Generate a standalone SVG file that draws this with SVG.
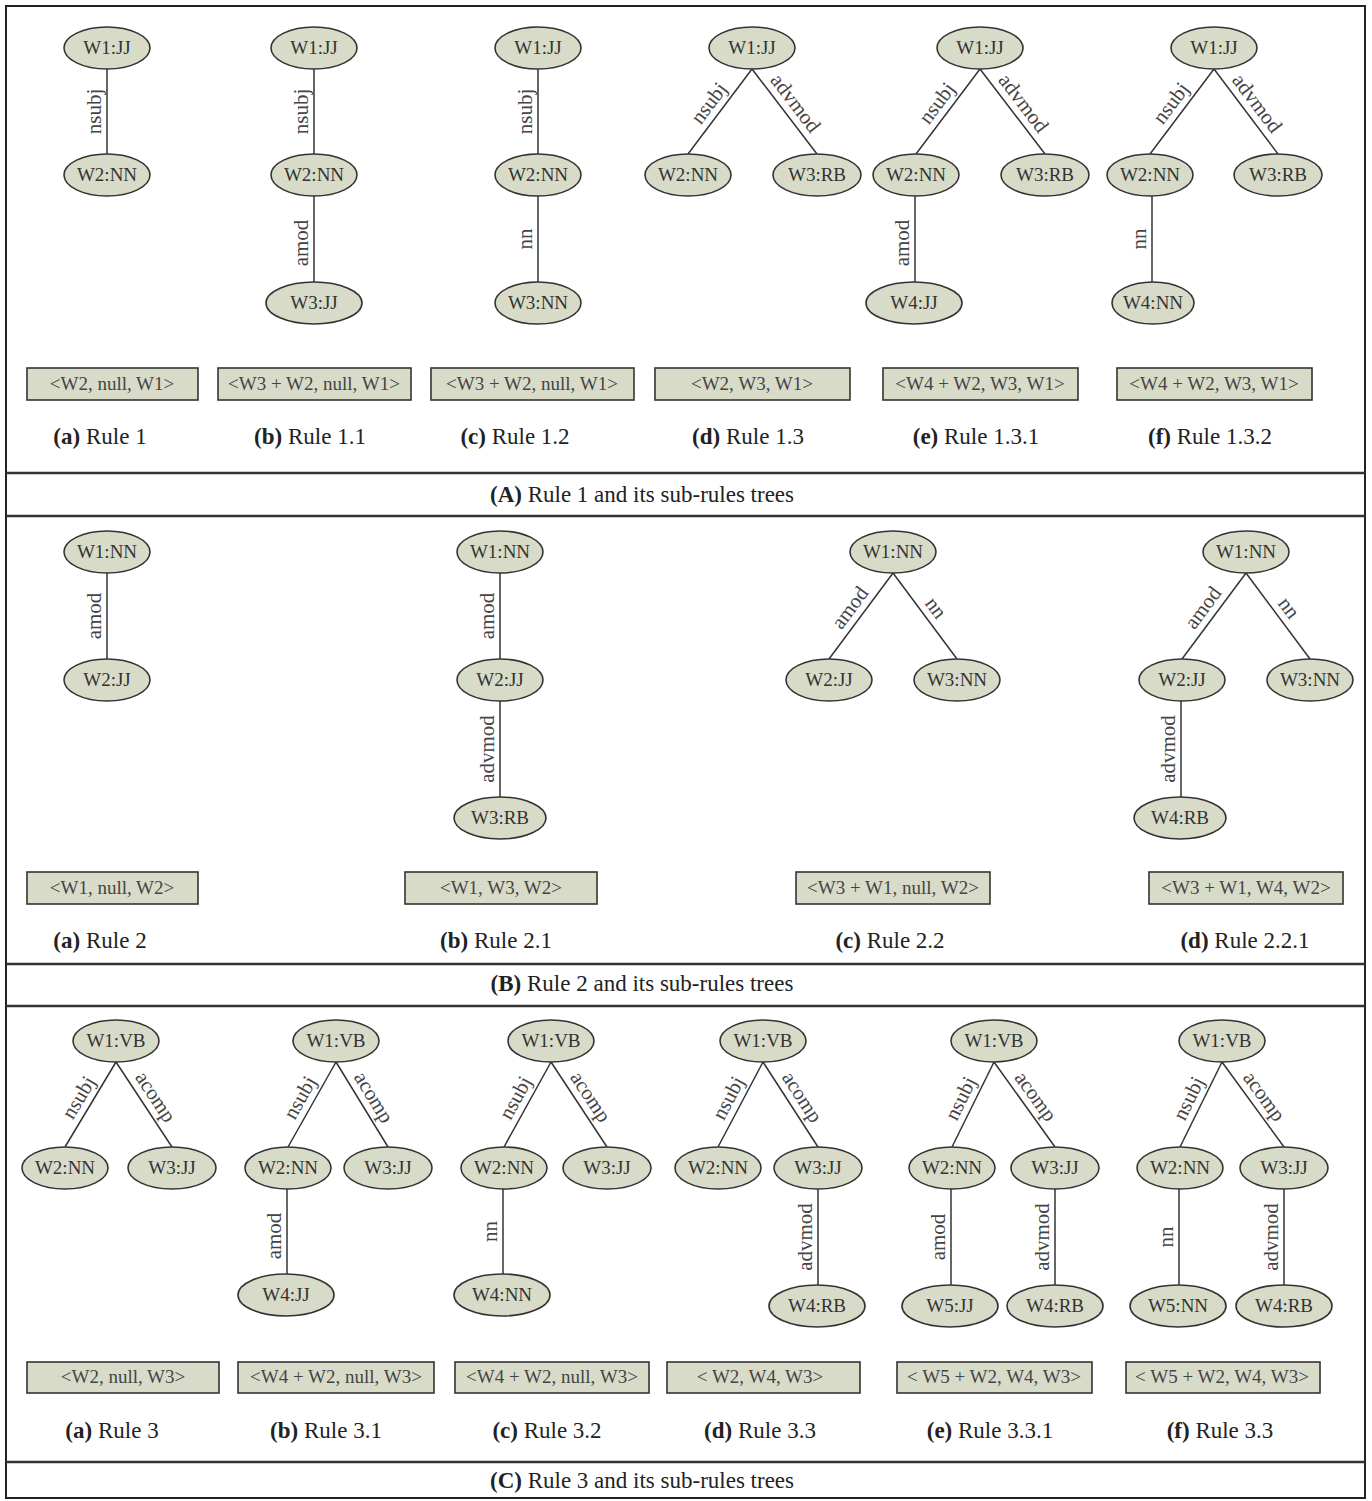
<svg xmlns="http://www.w3.org/2000/svg" width="1372" height="1501" viewBox="0 0 1372 1501">
<style>
.bg{fill:#fff}
.frame{fill:none;stroke:#222;stroke-width:2}
.div{stroke:#333;stroke-width:2.5}
.nd ellipse{fill:#d9dbc9;stroke:#333;stroke-width:1.6}
.nd text{font-family:"Liberation Serif",serif;font-size:19px;fill:#333;text-anchor:middle}
.edges line{stroke:#333;stroke-width:1.5}
.el{font-family:"Liberation Serif",serif;font-size:21px;fill:#444;text-anchor:middle}
.bx rect{fill:#d9dbc9;stroke:#333;stroke-width:1.6}
.bx text{font-family:"Liberation Serif",serif;font-size:19px;fill:#444;text-anchor:middle}
.cap{font-family:"Liberation Serif",serif;font-size:23px;fill:#222;text-anchor:middle}
.b{font-weight:bold}
</style>
<rect class="bg" x="0" y="0" width="1372" height="1501"/>
<rect class="frame" x="6" y="6" width="1359" height="1492"/>
<g id="dividers">
<line class="div" x1="6" y1="473" x2="1365" y2="473"/>
<line class="div" x1="6" y1="516" x2="1365" y2="516"/>
<line class="div" x1="6" y1="964" x2="1365" y2="964"/>
<line class="div" x1="6" y1="1006" x2="1365" y2="1006"/>
<line class="div" x1="6" y1="1462" x2="1365" y2="1462"/>
</g>

<g id="connectors" class="edges">
<!-- Panel A -->
<line x1="107" y1="69" x2="107" y2="154"/>
<line x1="314" y1="69" x2="314" y2="154"/>
<line x1="314" y1="196" x2="314" y2="282"/>
<line x1="538" y1="69" x2="538" y2="154"/>
<line x1="538" y1="196" x2="538" y2="282"/>
<line x1="752" y1="69" x2="688" y2="154"/>
<line x1="752" y1="69" x2="817" y2="154"/>
<line x1="980" y1="69" x2="916" y2="154"/>
<line x1="980" y1="69" x2="1045" y2="154"/>
<line x1="915" y1="196" x2="915" y2="282"/>
<line x1="1214" y1="69" x2="1150" y2="154"/>
<line x1="1214" y1="69" x2="1278" y2="154"/>
<line x1="1152" y1="196" x2="1152" y2="282"/>
<!-- Panel B -->
<line x1="107" y1="573" x2="107" y2="659"/>
<line x1="500" y1="573" x2="500" y2="659"/>
<line x1="500" y1="701" x2="500" y2="797"/>
<line x1="893" y1="573" x2="829" y2="659"/>
<line x1="893" y1="573" x2="957" y2="659"/>
<line x1="1246" y1="573" x2="1182" y2="659"/>
<line x1="1246" y1="573" x2="1310" y2="659"/>
<line x1="1181" y1="701" x2="1181" y2="797"/>
<!-- Panel C -->
<line x1="116" y1="1062" x2="65" y2="1147"/>
<line x1="116" y1="1062" x2="172" y2="1147"/>
<line x1="336" y1="1062" x2="288" y2="1147"/>
<line x1="336" y1="1062" x2="388" y2="1147"/>
<line x1="287" y1="1189" x2="287" y2="1274"/>
<line x1="551" y1="1062" x2="504" y2="1147"/>
<line x1="551" y1="1062" x2="607" y2="1147"/>
<line x1="503" y1="1189" x2="503" y2="1274"/>
<line x1="763" y1="1062" x2="718" y2="1147"/>
<line x1="763" y1="1062" x2="818" y2="1147"/>
<line x1="818" y1="1189" x2="818" y2="1285"/>
<line x1="994" y1="1062" x2="952" y2="1147"/>
<line x1="994" y1="1062" x2="1055" y2="1147"/>
<line x1="951" y1="1189" x2="951" y2="1285"/>
<line x1="1055" y1="1189" x2="1055" y2="1285"/>
<line x1="1222" y1="1062" x2="1180" y2="1147"/>
<line x1="1222" y1="1062" x2="1284" y2="1147"/>
<line x1="1179" y1="1189" x2="1179" y2="1285"/>
<line x1="1284" y1="1189" x2="1284" y2="1285"/>

<!-- edge labels -->
<g>
<text class="el" transform="translate(107,111.5) rotate(-90)" y="-6">nsubj</text>
<text class="el" transform="translate(314,111.5) rotate(-90)" y="-6">nsubj</text>
<text class="el" transform="translate(314,243) rotate(-90)" y="-6">amod</text>
<text class="el" transform="translate(538,111.5) rotate(-90)" y="-6">nsubj</text>
<text class="el" transform="translate(538,239) rotate(-90)" y="-6">nn</text>
<text class="el" transform="translate(720,111.5) rotate(-53)" y="-7">nsubj</text>
<text class="el" transform="translate(784.5,111.5) rotate(52.6)" y="-7">advmod</text>
<text class="el" transform="translate(948,111.5) rotate(-53)" y="-7">nsubj</text>
<text class="el" transform="translate(1012.5,111.5) rotate(52.6)" y="-7">advmod</text>
<text class="el" transform="translate(915,243) rotate(-90)" y="-6">amod</text>
<text class="el" transform="translate(1182,111.5) rotate(-53)" y="-7">nsubj</text>
<text class="el" transform="translate(1246,111.5) rotate(53)" y="-7">advmod</text>
<text class="el" transform="translate(1152,239) rotate(-90)" y="-6">nn</text>

<text class="el" transform="translate(107,616) rotate(-90)" y="-6">amod</text>
<text class="el" transform="translate(500,616) rotate(-90)" y="-6">amod</text>
<text class="el" transform="translate(500,749) rotate(-90)" y="-6">advmod</text>
<text class="el" transform="translate(861,616) rotate(-53.3)" y="-7">amod</text>
<text class="el" transform="translate(925,616) rotate(53.3)" y="-7">nn</text>
<text class="el" transform="translate(1214,616) rotate(-53.3)" y="-7">amod</text>
<text class="el" transform="translate(1278,616) rotate(53.3)" y="-7">nn</text>
<text class="el" transform="translate(1181,749) rotate(-90)" y="-6">advmod</text>

<text class="el" transform="translate(90.5,1104.5) rotate(-59)" y="-7">nsubj</text>
<text class="el" transform="translate(144,1104.5) rotate(56.6)" y="-7">acomp</text>
<text class="el" transform="translate(312,1104.5) rotate(-60.5)" y="-7">nsubj</text>
<text class="el" transform="translate(362,1104.5) rotate(58.5)" y="-7">acomp</text>
<text class="el" transform="translate(287,1236) rotate(-90)" y="-6">amod</text>
<text class="el" transform="translate(527.5,1104.5) rotate(-61.1)" y="-7">nsubj</text>
<text class="el" transform="translate(579,1104.5) rotate(56.6)" y="-7">acomp</text>
<text class="el" transform="translate(503,1231.5) rotate(-90)" y="-6">nn</text>
<text class="el" transform="translate(740.5,1104.5) rotate(-62.1)" y="-7">nsubj</text>
<text class="el" transform="translate(790.5,1104.5) rotate(57.1)" y="-7">acomp</text>
<text class="el" transform="translate(818,1237) rotate(-90)" y="-6">advmod</text>
<text class="el" transform="translate(973,1104.5) rotate(-63.7)" y="-7">nsubj</text>
<text class="el" transform="translate(1024.5,1104.5) rotate(54.3)" y="-7">acomp</text>
<text class="el" transform="translate(951,1237) rotate(-90)" y="-6">amod</text>
<text class="el" transform="translate(1055,1237) rotate(-90)" y="-6">advmod</text>
<text class="el" transform="translate(1201,1104.5) rotate(-63.7)" y="-7">nsubj</text>
<text class="el" transform="translate(1253,1104.5) rotate(53.9)" y="-7">acomp</text>
<text class="el" transform="translate(1179,1237) rotate(-90)" y="-6">nn</text>
<text class="el" transform="translate(1284,1237) rotate(-90)" y="-6">advmod</text>
</g>
</g>

<!-- Panel A nodes -->
<g id="A-a-W1" class="nd"><ellipse cx="107" cy="48" rx="43" ry="21"/><text x="107" y="54">W1:JJ</text></g>
<g id="A-a-W2" class="nd"><ellipse cx="107" cy="175" rx="43" ry="21"/><text x="107" y="181">W2:NN</text></g>
<g id="A-b-W1" class="nd"><ellipse cx="314" cy="48" rx="43" ry="21"/><text x="314" y="54">W1:JJ</text></g>
<g id="A-b-W2" class="nd"><ellipse cx="314" cy="175" rx="43" ry="21"/><text x="314" y="181">W2:NN</text></g>
<g id="A-b-W3" class="nd"><ellipse cx="314" cy="303" rx="48" ry="21"/><text x="314" y="309">W3:JJ</text></g>
<g id="A-c-W1" class="nd"><ellipse cx="538" cy="48" rx="43" ry="21"/><text x="538" y="54">W1:JJ</text></g>
<g id="A-c-W2" class="nd"><ellipse cx="538" cy="175" rx="43" ry="21"/><text x="538" y="181">W2:NN</text></g>
<g id="A-c-W3" class="nd"><ellipse cx="538" cy="303" rx="43" ry="21"/><text x="538" y="309">W3:NN</text></g>
<g id="A-d-W1" class="nd"><ellipse cx="752" cy="48" rx="43" ry="21"/><text x="752" y="54">W1:JJ</text></g>
<g id="A-d-W2" class="nd"><ellipse cx="688" cy="175" rx="43" ry="21"/><text x="688" y="181">W2:NN</text></g>
<g id="A-d-W3" class="nd"><ellipse cx="817" cy="175" rx="44" ry="21"/><text x="817" y="181">W3:RB</text></g>
<g id="A-e-W1" class="nd"><ellipse cx="980" cy="48" rx="43" ry="21"/><text x="980" y="54">W1:JJ</text></g>
<g id="A-e-W2" class="nd"><ellipse cx="916" cy="175" rx="43" ry="21"/><text x="916" y="181">W2:NN</text></g>
<g id="A-e-W3" class="nd"><ellipse cx="1045" cy="175" rx="44" ry="21"/><text x="1045" y="181">W3:RB</text></g>
<g id="A-e-W4" class="nd"><ellipse cx="914" cy="303" rx="48" ry="21"/><text x="914" y="309">W4:JJ</text></g>
<g id="A-f-W1" class="nd"><ellipse cx="1214" cy="48" rx="43" ry="21"/><text x="1214" y="54">W1:JJ</text></g>
<g id="A-f-W2" class="nd"><ellipse cx="1150" cy="175" rx="43" ry="21"/><text x="1150" y="181">W2:NN</text></g>
<g id="A-f-W3" class="nd"><ellipse cx="1278" cy="175" rx="44" ry="21"/><text x="1278" y="181">W3:RB</text></g>
<g id="A-f-W4" class="nd"><ellipse cx="1153" cy="303" rx="41" ry="21"/><text x="1153" y="309">W4:NN</text></g>

<!-- Panel B nodes -->
<g id="B-a-W1" class="nd"><ellipse cx="107" cy="552" rx="43" ry="21"/><text x="107" y="558">W1:NN</text></g>
<g id="B-a-W2" class="nd"><ellipse cx="107" cy="680" rx="43" ry="21"/><text x="107" y="686">W2:JJ</text></g>
<g id="B-b-W1" class="nd"><ellipse cx="500" cy="552" rx="43" ry="21"/><text x="500" y="558">W1:NN</text></g>
<g id="B-b-W2" class="nd"><ellipse cx="500" cy="680" rx="43" ry="21"/><text x="500" y="686">W2:JJ</text></g>
<g id="B-b-W3" class="nd"><ellipse cx="500" cy="818" rx="46" ry="21"/><text x="500" y="824">W3:RB</text></g>
<g id="B-c-W1" class="nd"><ellipse cx="893" cy="552" rx="43" ry="21"/><text x="893" y="558">W1:NN</text></g>
<g id="B-c-W2" class="nd"><ellipse cx="829" cy="680" rx="43" ry="21"/><text x="829" y="686">W2:JJ</text></g>
<g id="B-c-W3" class="nd"><ellipse cx="957" cy="680" rx="43" ry="21"/><text x="957" y="686">W3:NN</text></g>
<g id="B-d-W1" class="nd"><ellipse cx="1246" cy="552" rx="43" ry="21"/><text x="1246" y="558">W1:NN</text></g>
<g id="B-d-W2" class="nd"><ellipse cx="1182" cy="680" rx="43" ry="21"/><text x="1182" y="686">W2:JJ</text></g>
<g id="B-d-W3" class="nd"><ellipse cx="1310" cy="680" rx="43" ry="21"/><text x="1310" y="686">W3:NN</text></g>
<g id="B-d-W4" class="nd"><ellipse cx="1180" cy="818" rx="46" ry="21"/><text x="1180" y="824">W4:RB</text></g>

<!-- Panel C nodes -->
<g id="C-a-W1" class="nd"><ellipse cx="116" cy="1041" rx="43" ry="21"/><text x="116" y="1047">W1:VB</text></g>
<g id="C-a-W2" class="nd"><ellipse cx="65" cy="1168" rx="43" ry="21"/><text x="65" y="1174">W2:NN</text></g>
<g id="C-a-W3" class="nd"><ellipse cx="172" cy="1168" rx="44" ry="21"/><text x="172" y="1174">W3:JJ</text></g>
<g id="C-b-W1" class="nd"><ellipse cx="336" cy="1041" rx="43" ry="21"/><text x="336" y="1047">W1:VB</text></g>
<g id="C-b-W2" class="nd"><ellipse cx="288" cy="1168" rx="43" ry="21"/><text x="288" y="1174">W2:NN</text></g>
<g id="C-b-W3" class="nd"><ellipse cx="388" cy="1168" rx="44" ry="21"/><text x="388" y="1174">W3:JJ</text></g>
<g id="C-b-W4" class="nd"><ellipse cx="286" cy="1295" rx="48" ry="21"/><text x="286" y="1301">W4:JJ</text></g>
<g id="C-c-W1" class="nd"><ellipse cx="551" cy="1041" rx="43" ry="21"/><text x="551" y="1047">W1:VB</text></g>
<g id="C-c-W2" class="nd"><ellipse cx="504" cy="1168" rx="43" ry="21"/><text x="504" y="1174">W2:NN</text></g>
<g id="C-c-W3" class="nd"><ellipse cx="607" cy="1168" rx="44" ry="21"/><text x="607" y="1174">W3:JJ</text></g>
<g id="C-c-W4" class="nd"><ellipse cx="502" cy="1295" rx="48" ry="21"/><text x="502" y="1301">W4:NN</text></g>
<g id="C-d-W1" class="nd"><ellipse cx="763" cy="1041" rx="43" ry="21"/><text x="763" y="1047">W1:VB</text></g>
<g id="C-d-W2" class="nd"><ellipse cx="718" cy="1168" rx="43" ry="21"/><text x="718" y="1174">W2:NN</text></g>
<g id="C-d-W3" class="nd"><ellipse cx="818" cy="1168" rx="44" ry="21"/><text x="818" y="1174">W3:JJ</text></g>
<g id="C-d-W4" class="nd"><ellipse cx="817" cy="1306" rx="48" ry="21"/><text x="817" y="1312">W4:RB</text></g>
<g id="C-e-W1" class="nd"><ellipse cx="994" cy="1041" rx="43" ry="21"/><text x="994" y="1047">W1:VB</text></g>
<g id="C-e-W2" class="nd"><ellipse cx="952" cy="1168" rx="43" ry="21"/><text x="952" y="1174">W2:NN</text></g>
<g id="C-e-W3" class="nd"><ellipse cx="1055" cy="1168" rx="44" ry="21"/><text x="1055" y="1174">W3:JJ</text></g>
<g id="C-e-W5" class="nd"><ellipse cx="950" cy="1306" rx="48" ry="21"/><text x="950" y="1312">W5:JJ</text></g>
<g id="C-e-W4" class="nd"><ellipse cx="1055" cy="1306" rx="48" ry="21"/><text x="1055" y="1312">W4:RB</text></g>
<g id="C-f-W1" class="nd"><ellipse cx="1222" cy="1041" rx="43" ry="21"/><text x="1222" y="1047">W1:VB</text></g>
<g id="C-f-W2" class="nd"><ellipse cx="1180" cy="1168" rx="43" ry="21"/><text x="1180" y="1174">W2:NN</text></g>
<g id="C-f-W3" class="nd"><ellipse cx="1284" cy="1168" rx="44" ry="21"/><text x="1284" y="1174">W3:JJ</text></g>
<g id="C-f-W5" class="nd"><ellipse cx="1178" cy="1306" rx="48" ry="21"/><text x="1178" y="1312">W5:NN</text></g>
<g id="C-f-W4" class="nd"><ellipse cx="1284" cy="1306" rx="48" ry="21"/><text x="1284" y="1312">W4:RB</text></g>

<!-- result boxes -->
<g id="A-a-box" class="bx"><rect x="27" y="368" width="171" height="32"/><text x="112" y="390">&lt;W2, null, W1&gt;</text></g>
<g id="A-b-box" class="bx"><rect x="218" y="368" width="193" height="32"/><text x="314" y="390">&lt;W3 + W2, null, W1&gt;</text></g>
<g id="A-c-box" class="bx"><rect x="431" y="368" width="203" height="32"/><text x="532" y="390">&lt;W3 + W2, null, W1&gt;</text></g>
<g id="A-d-box" class="bx"><rect x="655" y="368" width="195" height="32"/><text x="752" y="390">&lt;W2, W3, W1&gt;</text></g>
<g id="A-e-box" class="bx"><rect x="883" y="368" width="195" height="32"/><text x="980" y="390">&lt;W4 + W2, W3, W1&gt;</text></g>
<g id="A-f-box" class="bx"><rect x="1117" y="368" width="195" height="32"/><text x="1214" y="390">&lt;W4 + W2, W3, W1&gt;</text></g>

<g id="B-a-box" class="bx"><rect x="27" y="872" width="171" height="32"/><text x="112" y="894">&lt;W1, null, W2&gt;</text></g>
<g id="B-b-box" class="bx"><rect x="405" y="872" width="192" height="32"/><text x="501" y="894">&lt;W1, W3, W2&gt;</text></g>
<g id="B-c-box" class="bx"><rect x="796" y="872" width="194" height="32"/><text x="893" y="894">&lt;W3 + W1, null, W2&gt;</text></g>
<g id="B-d-box" class="bx"><rect x="1149" y="872" width="194" height="32"/><text x="1246" y="894">&lt;W3 + W1, W4, W2&gt;</text></g>

<g id="C-a-box" class="bx"><rect x="27" y="1362" width="192" height="31"/><text x="123" y="1383">&lt;W2, null, W3&gt;</text></g>
<g id="C-b-box" class="bx"><rect x="238" y="1362" width="196" height="31"/><text x="336" y="1383">&lt;W4 + W2, null, W3&gt;</text></g>
<g id="C-c-box" class="bx"><rect x="455" y="1362" width="194" height="31"/><text x="552" y="1383">&lt;W4 + W2, null, W3&gt;</text></g>
<g id="C-d-box" class="bx"><rect x="667" y="1362" width="193" height="31"/><text x="760" y="1383">&lt; W2, W4, W3&gt;</text></g>
<g id="C-e-box" class="bx"><rect x="897" y="1362" width="195" height="31"/><text x="994" y="1383">&lt; W5 + W2, W4, W3&gt;</text></g>
<g id="C-f-box" class="bx"><rect x="1126" y="1362" width="194" height="31"/><text x="1222" y="1383">&lt; W5 + W2, W4, W3&gt;</text></g>

<!-- captions -->
<g id="captions">
<text class="cap" x="100" y="444"><tspan class="b">(a)</tspan> Rule 1</text>
<text class="cap" x="310" y="444"><tspan class="b">(b)</tspan> Rule 1.1</text>
<text class="cap" x="515" y="444"><tspan class="b">(c)</tspan> Rule 1.2</text>
<text class="cap" x="748" y="444"><tspan class="b">(d)</tspan> Rule 1.3</text>
<text class="cap" x="976" y="444"><tspan class="b">(e)</tspan> Rule 1.3.1</text>
<text class="cap" x="1210" y="444"><tspan class="b">(f)</tspan> Rule 1.3.2</text>
<text class="cap" x="642" y="502"><tspan class="b">(A)</tspan> Rule 1 and its sub-rules trees</text>

<text class="cap" x="100" y="948"><tspan class="b">(a)</tspan> Rule 2</text>
<text class="cap" x="496" y="948"><tspan class="b">(b)</tspan> Rule 2.1</text>
<text class="cap" x="890" y="948"><tspan class="b">(c)</tspan> Rule 2.2</text>
<text class="cap" x="1245" y="948"><tspan class="b">(d)</tspan> Rule 2.2.1</text>
<text class="cap" x="642" y="991"><tspan class="b">(B)</tspan> Rule 2 and its sub-rules trees</text>

<text class="cap" x="112" y="1438"><tspan class="b">(a)</tspan> Rule 3</text>
<text class="cap" x="326" y="1438"><tspan class="b">(b)</tspan> Rule 3.1</text>
<text class="cap" x="547" y="1438"><tspan class="b">(c)</tspan> Rule 3.2</text>
<text class="cap" x="760" y="1438"><tspan class="b">(d)</tspan> Rule 3.3</text>
<text class="cap" x="990" y="1438"><tspan class="b">(e)</tspan> Rule 3.3.1</text>
<text class="cap" x="1220" y="1438"><tspan class="b">(f)</tspan> Rule 3.3</text>
<text class="cap" x="642" y="1488"><tspan class="b">(C)</tspan> Rule 3 and its sub-rules trees</text>
</g>
</svg>
